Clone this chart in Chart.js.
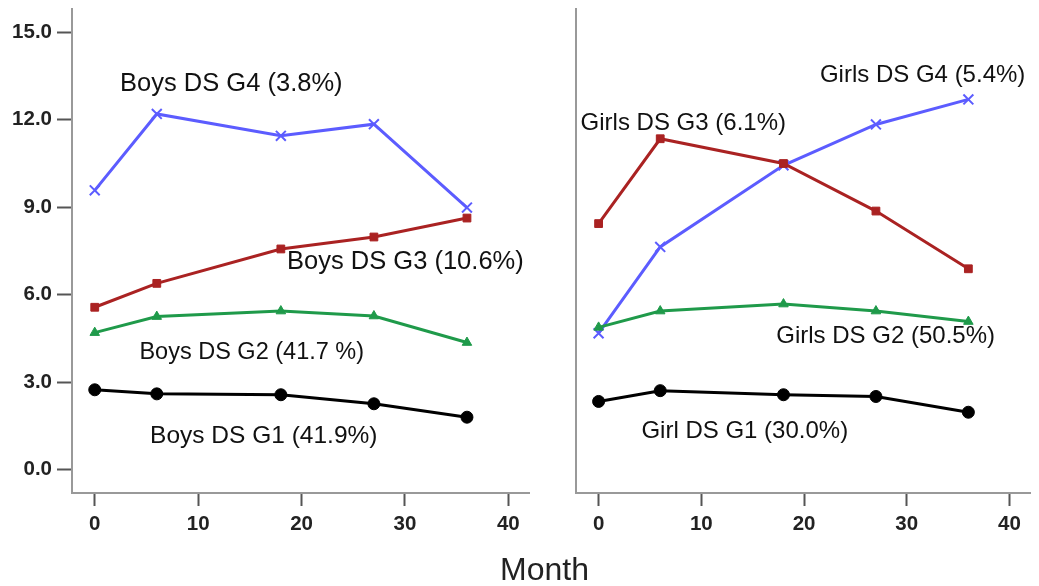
<!DOCTYPE html>
<html>
<head>
<meta charset="utf-8">
<script src="https://cdn.jsdelivr.net/npm/chart.js@4"></script>
<style>
  body { margin: 0; background: #fff; width: 1039px; height: 586px; overflow: hidden; position: relative; }
  canvas { position: absolute; top: 0; }
  #boysChart { left: 0; }
  #girlsChart { left: 540px; }
  #xTitle { position: absolute; left: 500px; top: 553px; font: 32px "Liberation Sans", Arial, sans-serif; line-height: 32px; color: #222; }
</style>
</head>
<body>
<canvas id="boysChart" width="540" height="586"></canvas>
<canvas id="girlsChart" width="499" height="586"></canvas>
<div id="xTitle">Month</div>
<script>
// Data
const months = [0, 6, 18, 27, 36];
const boysG1 = [2.74, 2.60, 2.57, 2.26, 1.80];
const boysG2 = [4.70, 5.25, 5.44, 5.27, 4.36];
const boysG3 = [5.57, 6.39, 7.57, 7.98, 8.63];
const boysG4 = [9.58, 12.20, 11.45, 11.85, 8.99];
const girlsG1 = [2.34, 2.71, 2.57, 2.51, 1.97];
const girlsG2 = [4.88, 5.44, 5.68, 5.44, 5.08];
const girlsG3 = [8.44, 11.35, 10.50, 8.87, 6.89];
const girlsG4 = [4.68, 7.64, 10.44, 11.84, 12.70];
const xTicks = [0, 10, 20, 30, 40];
const yTicks = [0, 3, 6, 9, 12, 15];
const boysLabels = ['Boys DS G1 (41.9%)', 'Boys DS G2 (41.7 %)', 'Boys DS G3 (10.6%)', 'Boys DS G4 (3.8%)'];
const girlsLabels = ['Girl DS G1 (30.0%)', 'Girls DS G2 (50.5%)', 'Girls DS G3 (6.1%)', 'Girls DS G4 (5.4%)'];

// where each group label sits (left edge / baseline, in data units) and its font size
const boysLabelAt = [[5.35, 0.92], [4.32, 3.79], [18.6, 6.87], [2.45, 12.98]];
const boysLabelSize = [24.5, 23.5, 25.5, 25.5];
const girlsLabelAt = [[4.17, 1.10], [17.3, 4.34], [-1.75, 11.66], [21.55, 13.29]];
const girlsLabelSize = [24, 24, 24, 24];

const groupStyle = [
  { color: '#000000', point: 'circle', r: 6 },
  { color: '#1f9a4a', point: 'triangle', r: 5.5 },
  { color: '#aa2222', point: 'rect', r: 5.5 },
  { color: '#5c5cff', point: 'crossRot', r: 7 }
];

const FONT = '"Liberation Sans", Arial, sans-serif';

const groupLabels = {
  id: 'groupLabels',
  afterDatasetsDraw(chart, args, opts) {
    const { ctx, scales: { x, y } } = chart;
    ctx.save();
    ctx.fillStyle = '#111';
    ctx.textAlign = 'left';
    ctx.textBaseline = 'alphabetic';
    opts.texts.forEach((t, i) => {
      ctx.font = opts.sizes[i] + 'px ' + FONT;
      ctx.fillText(t, x.getPixelForValue(opts.at[i][0]), y.getPixelForValue(opts.at[i][1]));
    });
    ctx.restore();
  }
};

function noPad(scale) {
  scale.paddingTop = 0; scale.paddingBottom = 0;
  scale.paddingLeft = 0; scale.paddingRight = 0;
}

function makePanel(id, series, texts, at, sizes, withY) {
  const datasets = series.map((vals, i) => {
    const s = groupStyle[i];
    return {
      data: months.map((m, j) => ({ x: m, y: vals[j] })),
      borderColor: s.color,
      backgroundColor: s.color,
      borderWidth: 3,
      pointStyle: s.point,
      pointRadius: s.r,
      pointBorderWidth: s.point === 'crossRot' ? 2 : 1,
      tension: 0
    };
  });

  return new Chart(document.getElementById(id), {
    type: 'line',
    data: { datasets },
    plugins: [groupLabels],
    options: {
      responsive: false,
      animation: false,
      layout: { padding: { top: 8, right: withY ? 11 : 6, bottom: 0, left: 0 } },
      plugins: {
        legend: { display: false },
        tooltip: { enabled: false },
        groupLabels: { texts, at, sizes }
      },
      scales: {
        x: {
          type: 'linear',
          min: -2.2,
          max: 42,
          afterBuildTicks: s => { s.ticks = xTicks.map(v => ({ value: v })); },
          afterFit: s => { s.height = 93; noPad(s); },
          ticks: { color: '#222', padding: 6, font: { family: FONT, size: 20.5, weight: 'bold' } },
          grid: { drawOnChartArea: false, drawTicks: true, tickLength: 13, tickColor: '#555', tickWidth: 2 },
          border: { display: true, color: '#999', width: 2 }
        },
        y: {
          min: -0.8,
          max: 15.8,
          afterBuildTicks: s => { s.ticks = yTicks.map(v => ({ value: v })); },
          afterFit: s => { s.width = withY ? 72 : 36; noPad(s); },
          ticks: {
            display: withY,
            color: '#222',
            padding: 5,
            font: { family: FONT, size: 20.5, weight: 'bold' },
            callback: v => v.toFixed(1)
          },
          grid: { drawOnChartArea: false, drawTicks: withY, tickLength: 15, tickColor: '#555', tickWidth: 2 },
          border: { display: true, color: '#999', width: 2 }
        }
      }
    }
  });
}

makePanel('boysChart', [boysG1, boysG2, boysG3, boysG4], boysLabels, boysLabelAt, boysLabelSize, true);
makePanel('girlsChart', [girlsG1, girlsG2, girlsG3, girlsG4], girlsLabels, girlsLabelAt, girlsLabelSize, false);
</script>
</body>
</html>
